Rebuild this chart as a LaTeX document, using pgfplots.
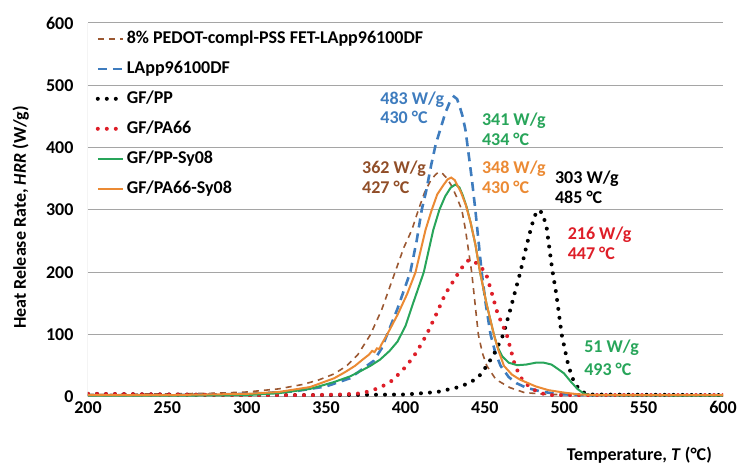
\documentclass[border=0pt]{standalone}
\usepackage{pgfplots}
\pgfplotsset{compat=1.18}
\usepackage{fontspec}
\setmainfont{Carlito}
\usetikzlibrary{calc}
\newcommand\f{\fontsize{18bp}{21bp}\selectfont\bfseries}

\definecolor{cBlue}{RGB}{62,124,190}
\definecolor{cBrown}{RGB}{145,78,40}
\definecolor{cBrownL}{RGB}{155,88,50}
\definecolor{cOrange}{RGB}{235,138,52}
\definecolor{cGreen}{RGB}{40,165,90}
\definecolor{cRed}{RGB}{222,30,40}
\definecolor{cGrid}{RGB}{165,165,165}

\begin{document}
\begin{tikzpicture}
\begin{axis}[
  name=ax,
  scale only axis,
  width=635bp, height=374bp,
  xmin=200, xmax=600, ymin=0, ymax=600,
  xtick={200,250,...,600},
  ytick={0,100,...,600},
  axis line style={draw=none},
  major tick length=0pt,
  ymajorgrids,
  grid style={cGrid, line width=1bp},
  /pgf/number format/assume math mode=true,
  every tick label/.append style={font=\f},
  yticklabel style={xshift=-11bp},
  xticklabel style={yshift=-1bp},
  xlabel={Temperature, \textit{T} (°C)},
  ylabel={Heat Release Rate, \textit{HRR} (W/g)},
  label style={font=\f},
  xlabel style={at={(axis description cs:0.988,-0.155)}, anchor=east},
  ylabel style={at={(axis description cs:-0.106,0.48)}, anchor=center},
  legend cell align=left,
  legend style={at={(axis description cs:0.012,0.985)}, anchor=north west,
    draw=none, fill=none, font=\f, inner sep=0pt, row sep=10bp,
    nodes={inner sep=2bp, text height=12.5bp, text depth=3.5bp}},
  legend image code/.code={\draw[#1] (0bp,0bp) -- (25bp,0bp);},
  brownd/.style={cBrownL, line width=1.6bp, dash pattern=on 6bp off 5bp},
  blued/.style={cBlue, line width=2.6bp, dash pattern=on 9bp off 6bp},
  blackd/.style={black, line width=4bp, line cap=round, dash pattern=on 0bp off 9bp},
  redd/.style={cRed, line width=4bp, line cap=round, dash pattern=on 0bp off 9bp},
]
\draw[cGrid, line width=1bp] (axis cs:200,0) -- (axis cs:200,600);

% 8% PEDOT-compl-PSS FET-LApp96100DF
\addplot[brownd] coordinates {
 (200,4)(250,5)(280,6)(300,8)(320,13)(335,20)(345,27)(355,37)(363,50)(370,68)
 (377.9,100)(385,140)(393.4,200)(399,240)(404,268)(408.1,300)(412,328)(416,348)
 (419,357)(421,361)(423.5,358)(426,351)(429,339)(432,322)(435.5,300)(437.8,268)
 (441.7,200)(445.9,100)(448.5,70)(451.2,50)(457,28)(465.8,15)(475,7)(490,4)(600,3)};
\addlegendentry{8\% PEDOT-compl-PSS FET-LApp96100DF}

% LApp96100DF
\addplot[blued] coordinates {
 (200,3)(250,3)(300,5)(330,9)(350,17)(365,30)(375.6,50)(380,58)(385,78)(388.4,100)
 (395,142)(403,200)(407,250)(410.2,300)(413,330)(416,370)(419,405)(422,430)(425,455)
 (428,474)(430.5,482)(432.5,478)(434.5,463)(436,450)(437.8,428)(440,385)(442,345)
 (444,300)(446,250)(448,200)(450.5,150)(453.6,100)(456.5,72)(459.9,50)(465,32)
 (470,22)(476,15)(485,9)(495,5)(510,3)(600,3)};
\addlegendentry{LApp96100DF}

% GF/PP
\addplot[blackd] coordinates {
 (200,5)(250,4)(300,3)(350,3)(400,4)(420,8)(432,15)(440,22)(446,32)(451.2,50)
 (456,70)(461.6,100)(466,140)(472.3,200)(476,240)(479.5,275)(482,294)(484,300)
 (486.5,294)(489,270)(492.4,205)(495,165)(498.4,100)(502.6,50)(506,25)(510,10)
 (515,4)(600,3)};
\addlegendentry{GF/PP}

% GF/PA66
\addplot[redd] coordinates {
 (200,5)(250,4)(300,3)(340,3)(360,4)(373,6)(384,15)(392,27)(400.7,50)(407,72)
 (413.3,100)(419.6,134)(425,165)(433.6,200)(437,213)(440,220)(443,218)(446,212)
 (450.5,200)(454,170)(458,134)(463.8,100)(469,50)(473,30)(478.5,15)(485,6)
 (492,3)(600,3)};
\addlegendentry{GF/PA66}

% GF/PP-Sy08
\addplot[cGreen, line width=2bp] coordinates {
 (200,2)(250,2)(300,3)(320,6)(340,13)(355,24)(365,33)(372,42)(377.9,50)(384,60)
 (390,74)(395,89)(400,114)(405,152)(411.5,200)(417.5,268)(421.3,300)(425,322)(428.5,336)
 (431.5,341)(434,336)(436,324)(438.5,305)(441,280)(444,245)(447,200)(451,150)
 (455.7,100)(458,80)(461,65)(465,55)(470.4,51)(476,52)(482,55)(487.2,55)(492,52)
 (496,45)(499.8,38)(504,25)(508.3,13)(512,6)(516,3)(600,2)};
\addlegendentry{GF/PP-Sy08}

% GF/PA66-Sy08
\addplot[cOrange, line width=2bp] coordinates {
 (200,3)(250,3)(300,5)(320,8)(340,16)(355,30)(362,40)(368.2,50)(373,60)(377,68)
 (379,74)(380.5,72)(382,78)(383.5,77)(385,85)(388.4,100)(395,132)(401,165)
 (406.3,200)(412.6,268)(416.5,300)(420,325)(423.9,340)(426.5,349)(428.8,352)
 (431,348)(432,343)(435,328)(438,308)(441,280)(444,245)(447,200)(451,150)
 (455.7,100)(458.5,75)(462,50)(467,36)(472,28)(482,17)(490,11)(500,7)(510,4)
 (520,3)(600,3)};
\addlegendentry{GF/PA66-Sy08}

% peak annotations
\node[font=\f, text=cBlue, anchor=base west] at (axis cs:382,470) {483 W/g};
\node[font=\f, text=cBlue, anchor=base west] at (axis cs:382,438) {430 °C};
\node[font=\f, text=cGreen, anchor=base west] at (axis cs:446,436) {341 W/g};
\node[font=\f, text=cGreen, anchor=base west] at (axis cs:446,404) {434 °C};
\node[font=\f, text=cBrown, anchor=base west] at (axis cs:370.5,358) {362 W/g};
\node[font=\f, text=cBrown, anchor=base west] at (axis cs:370.5,326) {427 °C};
\node[font=\f, text=cOrange, anchor=base west] at (axis cs:446,358) {348 W/g};
\node[font=\f, text=cOrange, anchor=base west] at (axis cs:446,326) {430 °C};
\node[font=\f, text=black, anchor=base west] at (axis cs:492,342) {303 W/g};
\node[font=\f, text=black, anchor=base west] at (axis cs:492,310) {485 °C};
\node[font=\f, text=cRed, anchor=base west] at (axis cs:500,253) {216 W/g};
\node[font=\f, text=cRed, anchor=base west] at (axis cs:500,221) {447 °C};
\node[font=\f, text=cGreen, anchor=base west] at (axis cs:510.4,72) {51 W/g};
\node[font=\f, text=cGreen, anchor=base west] at (axis cs:510.4,35) {493 °C};
\end{axis}
\pgfresetboundingbox
\path ($(ax.south west)+(-88bp,-69bp)$) rectangle ($(ax.north east)+(16bp,23bp)$);
\end{tikzpicture}
\end{document}
